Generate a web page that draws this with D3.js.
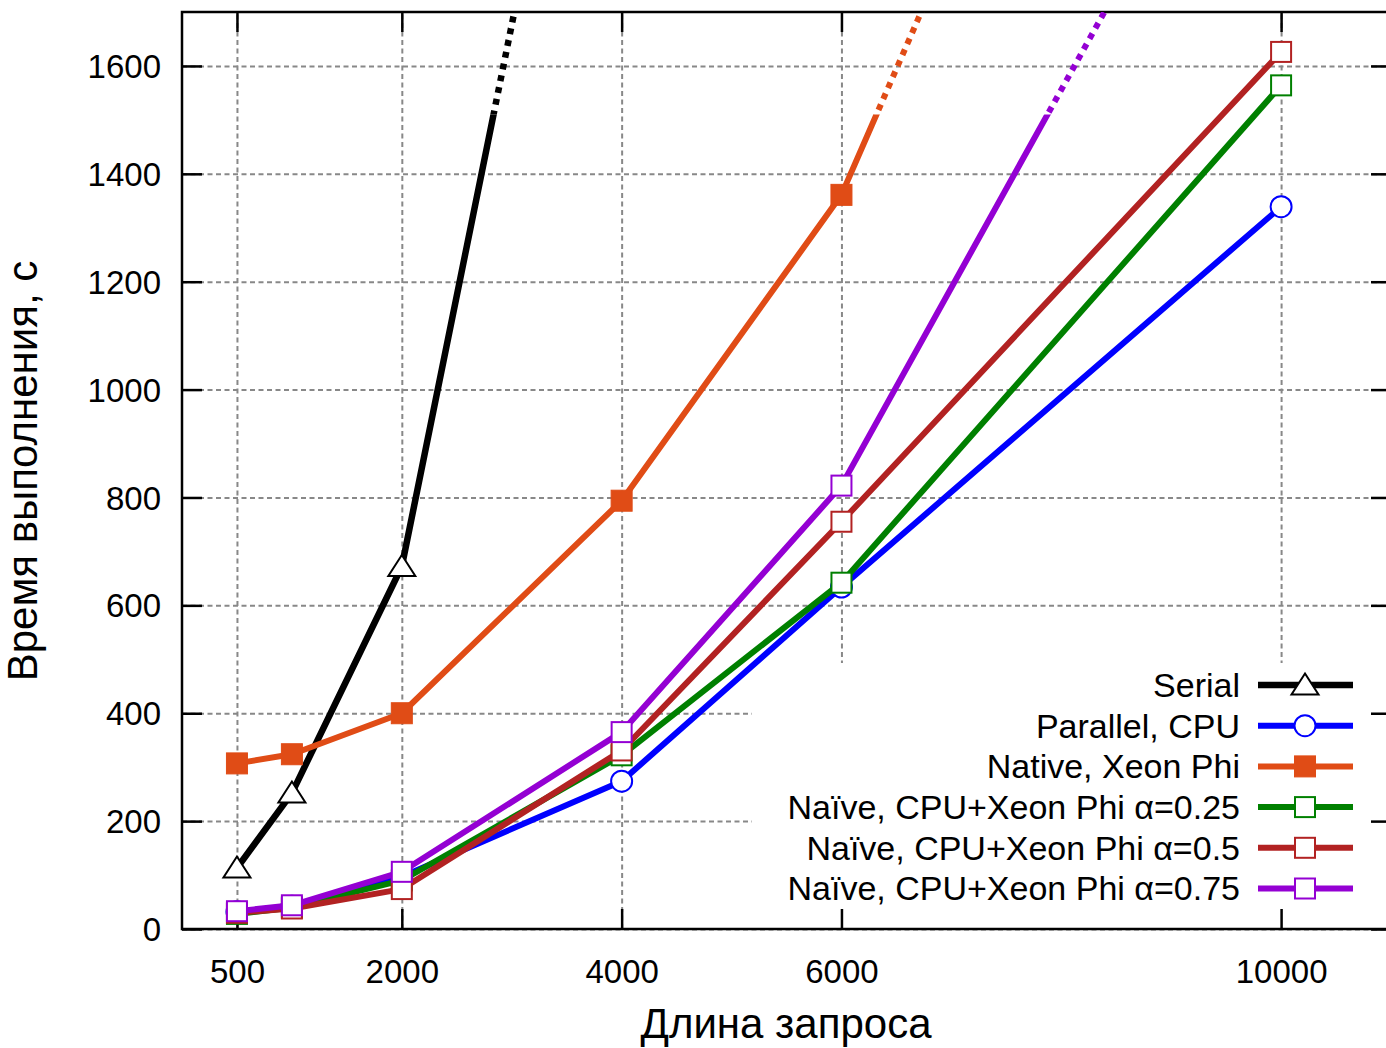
<!DOCTYPE html>
<html>
<head>
<meta charset="utf-8">
<script src="https://cdn.jsdelivr.net/npm/d3@7"></script>
<style>
  html, body { margin: 0; padding: 0; background: #fff; }
  svg { display: block; font-family: "Liberation Sans", Arial, sans-serif; }
</style>
</head>
<body>
<svg id="chart" width="1386" height="1048"></svg>
<script>
// ---- data ----
const xValues = [500, 1000, 2000, 4000, 6000, 10000];
const serial = [113, 252, 672, 2680];
const parallelCPU = [32, 42, 97, 274, 634, 1339];
const nativeXeonPhi = [307, 324, 400, 794, 1361, 3230];
const naive025 = [28, 40, 90, 322, 642, 1564];
const naive050 = [30, 38, 74, 331, 755, 1626];
const naive075 = [33, 44, 106, 365, 822, 2290];

const seriesNames = ["Serial", "Parallel, CPU", "Native, Xeon Phi",
  "Naïve, CPU+Xeon Phi α=0.25", "Naïve, CPU+Xeon Phi α=0.5", "Naïve, CPU+Xeon Phi α=0.75"];
const seriesValues = [serial, parallelCPU, nativeXeonPhi, naive025, naive050, naive075];
const seriesColors = ["#000000", "#0000ff", "#e04c16", "#008000", "#b22222", "#9400d3"];
const seriesMarkers = ["triangle", "circle", "filledSquare", "square", "square", "square"];
const seriesWidths = [6.5, 6, 6, 6, 6, 6];

const xTickValues = [500, 2000, 4000, 6000, 10000];
const yTickValues = [0, 200, 400, 600, 800, 1000, 1200, 1400, 1600];
const yMax = 1700;
const solidLimit = 1510;   // lines heading off the chart turn dotted above this value
const xTitle = "Длина запроса";
const yTitle = "Время выполнения, с";

// ---- layout ----
const svg = d3.select("#chart");
const L = 182, R = 1391, T = 12, B = 929;
const x = d3.scaleLinear().domain([0, 11000]).range([L, R]);
const y = d3.scaleLinear().domain([0, yMax]).range([B, T]);

const defs = svg.append("defs");
defs.append("clipPath").attr("id", "plotClip").append("rect")
  .attr("x", L).attr("y", T).attr("width", R - L).attr("height", B - T);
defs.append("clipPath").attr("id", "solidClip").append("rect")
  .attr("x", L).attr("y", y(solidLimit)).attr("width", R - L).attr("height", B - y(solidLimit));
defs.append("clipPath").attr("id", "dotClip").append("rect")
  .attr("x", L).attr("y", T).attr("width", R - L).attr("height", y(solidLimit) - T);

// ---- grid ----
const gridStyle = g => {
  g.select(".domain").remove();
  g.selectAll("text").remove();
  g.selectAll("line").attr("stroke", "#888").attr("stroke-width", 2)
    .attr("stroke-dasharray", "5,3.5");
};
svg.append("g").attr("transform", `translate(0,${B})`)
  .call(d3.axisBottom(x).tickValues(xTickValues).tickSize(-(B - T)).tickFormat(""))
  .call(gridStyle);
svg.append("g").attr("transform", `translate(${L},0)`)
  .call(d3.axisLeft(y).tickValues(yTickValues).tickSize(-(R - L)).tickFormat(""))
  .call(gridStyle);

// ---- legend box (opaque) ----
svg.append("rect").attr("x", 752).attr("y", 663).attr("width", R - 752).attr("height", B - 663)
  .attr("fill", "#fff");

// ---- axes / ticks ----
const axisStyle = g => {
  g.select(".domain").remove();
  g.selectAll(".tick line").attr("stroke", "#000").attr("stroke-width", 2.5);
  g.selectAll("text").attr("fill", "#000").style("font-size", "33px")
    .style("font-family", '"Liberation Sans", Arial, sans-serif');
};
svg.append("g").attr("transform", `translate(0,${B})`)
  .call(d3.axisBottom(x).tickValues(xTickValues).tickSize(-20).tickPadding(31).tickFormat(d3.format("d")))
  .call(axisStyle);
svg.append("g").attr("transform", `translate(${L},0)`)
  .call(d3.axisLeft(y).tickValues(yTickValues).tickSize(-20).tickPadding(21).tickFormat(d3.format("d")))
  .call(axisStyle)
  .call(g => g.selectAll("text").attr("dy", "0.35em"));
svg.append("g").attr("transform", `translate(0,${T})`)
  .call(d3.axisTop(x).tickValues(xTickValues).tickSize(-20).tickFormat(""))
  .call(axisStyle);
svg.append("g").attr("transform", `translate(${R},0)`)
  .call(d3.axisRight(y).tickValues(yTickValues).tickSize(-20).tickFormat(""))
  .call(axisStyle);
svg.append("rect").attr("x", L).attr("y", T).attr("width", R - L).attr("height", B - T)
  .attr("fill", "none").attr("stroke", "#000").attr("stroke-width", 2.5);

// ---- markers ----
function drawMarker(g, type, color, cx, cy) {
  if (type === "triangle") {
    g.append("path").attr("transform", `translate(${cx},${cy})`)
      .attr("d", "M0,-11.5L13.5,9.5L-13.5,9.5Z")
      .attr("fill", "#fff").attr("stroke", color).attr("stroke-width", 2);
  } else if (type === "circle") {
    g.append("circle").attr("cx", cx).attr("cy", cy).attr("r", 10.5)
      .attr("fill", "#fff").attr("stroke", color).attr("stroke-width", 2);
  } else if (type === "filledSquare") {
    g.append("rect").attr("x", cx - 10.5).attr("y", cy - 10.5).attr("width", 21).attr("height", 21)
      .attr("fill", color).attr("stroke", color).attr("stroke-width", 1);
  } else {
    g.append("rect").attr("x", cx - 10).attr("y", cy - 10).attr("width", 20).attr("height", 20)
      .attr("fill", "#fff").attr("stroke", color).attr("stroke-width", 2);
  }
}

// ---- series ----
const line = d3.line().x(d => x(d[0])).y(d => y(d[1]));
const plot = svg.append("g").attr("clip-path", "url(#plotClip)");
seriesValues.forEach((vals, i) => {
  const pts = vals.map((v, j) => [xValues[j], v]);
  const offChart = vals[vals.length - 1] > yMax;
  const g = plot.append("g");
  const solid = g.append("path").attr("d", line(pts))
    .attr("fill", "none").attr("stroke", seriesColors[i]).attr("stroke-width", seriesWidths[i])
    .attr("stroke-linejoin", "round");
  if (offChart) {
    solid.attr("clip-path", "url(#solidClip)");
    g.append("path").attr("d", line(pts)).attr("clip-path", "url(#dotClip)")
      .attr("fill", "none").attr("stroke", seriesColors[i]).attr("stroke-width", seriesWidths[i])
      .attr("stroke-dasharray", "6,6");
  }
  pts.filter(p => p[1] <= yMax).forEach(p => drawMarker(g, seriesMarkers[i], seriesColors[i], x(p[0]), y(p[1])));
});

// ---- legend ----
const legend = svg.append("g");
const rowY = d3.scaleLinear().domain([0, 1]).range([685, 725.7]);
seriesNames.forEach((name, i) => {
  const cy = rowY(i);
  legend.append("text").attr("x", 1240).attr("y", cy).attr("dy", "0.35em")
    .attr("text-anchor", "end").style("font-size", "34px").attr("fill", "#000").text(name);
  legend.append("line").attr("x1", 1258).attr("x2", 1353).attr("y1", cy).attr("y2", cy)
    .attr("stroke", seriesColors[i]).attr("stroke-width", seriesWidths[i]);
  drawMarker(legend, seriesMarkers[i], seriesColors[i], 1305, cy);
});

// ---- titles ----
svg.append("text").attr("x", 786).attr("y", 1038).attr("text-anchor", "middle")
  .style("font-size", "42px").attr("fill", "#000").text(xTitle);
svg.append("text").attr("transform", "translate(37,471) rotate(-90)").attr("text-anchor", "middle")
  .style("font-size", "42px").attr("fill", "#000").text(yTitle);
</script>
</body>
</html>
